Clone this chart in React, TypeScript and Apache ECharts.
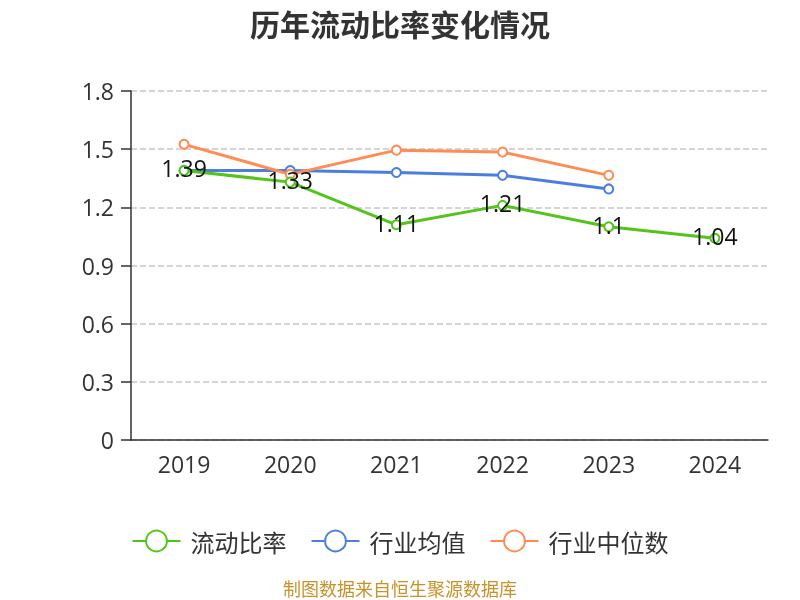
import React, { useEffect, useRef } from "react";
import * as echarts from "echarts";

const years = ["2019", "2020", "2021", "2022", "2023", "2024"];
const currentRatio = [1.39, 1.33, 1.11, 1.21, 1.1, 1.04];
const industryAvg = [1.39, 1.39, 1.38, 1.365, 1.295, null];
const industryMedian = [1.525, 1.37, 1.495, 1.485, 1.365, null];

const FONT = "'Open Sans', 'Noto Sans CJK SC', sans-serif";
const CJK = "'Noto Sans CJK SC', sans-serif";

export default function App() {
  const ref = useRef<HTMLDivElement>(null);
  useEffect(() => {
    if (!ref.current) return;
    const chart = echarts.init(ref.current, undefined, { renderer: "svg" });
    chart.setOption({
      animation: false,
      textStyle: { fontFamily: FONT },
      title: {
        text: "历年流动比率变化情况",
        left: "center",
        top: 3,
        textStyle: { fontSize: 30, fontWeight: "bold", color: "#333", fontFamily: CJK },
      },
      grid: { left: 131, right: 32, top: 91, bottom: 160 },
      legend: {
        top: 524,
        left: "center",
        itemWidth: 48,
        itemHeight: 26,
        itemGap: 24,
        textStyle: { fontSize: 24, color: "#333", fontFamily: CJK, padding: [0, 0, 0, 5] },
        data: ["流动比率", "行业均值", "行业中位数"],
      },
      graphic: [
        {
          type: "text",
          left: "center",
          top: 579,
          style: { text: "制图数据来自恒生聚源数据库", fill: "#c8922a", fontSize: 18, fontFamily: CJK },
        },
      ],
      xAxis: {
        type: "category",
        data: years,
        boundaryGap: true,
        axisLine: { lineStyle: { color: "#333", width: 1.5 } },
        axisTick: { length: 9, lineStyle: { color: "#333", width: 1.5 } },
        axisLabel: { fontSize: 23, color: "#333", margin: 12 },
      },
      yAxis: {
        type: "value",
        min: 0,
        max: 1.8,
        interval: 0.3,
        axisLine: { show: true, lineStyle: { color: "#333", width: 1.5 } },
        axisTick: { show: true, length: 10, lineStyle: { color: "#333", width: 1.5 } },
        axisLabel: {
          fontSize: 23,
          color: "#333",
          margin: 17,
          formatter: (v: number) => String(Math.round(v * 10) / 10),
        },
        splitLine: { lineStyle: { type: "dashed", color: "#c8c8c8", width: 1.5 } },
      },
      series: [
        {
          name: "流动比率",
          type: "line",
          data: currentRatio,
          symbol: "emptyCircle",
          symbolSize: 9,
          itemStyle: { color: "#52c41a" },
          lineStyle: { width: 3, color: "#52c41a" },
          label: { show: true, position: "inside", fontSize: 23, color: "#111", fontFamily: FONT, offset: [0, -2] },
          z: 3,
        },
        {
          name: "行业均值",
          type: "line",
          data: industryAvg,
          symbol: "emptyCircle",
          symbolSize: 9,
          itemStyle: { color: "#4a7fe0" },
          lineStyle: { width: 3, color: "#4a7fe0" },
          z: 2,
        },
        {
          name: "行业中位数",
          type: "line",
          data: industryMedian,
          symbol: "emptyCircle",
          symbolSize: 9,
          itemStyle: { color: "#ff8c55" },
          lineStyle: { width: 3, color: "#ff8c55" },
          z: 2,
        },
      ],
    });
    return () => chart.dispose();
  }, []);
  return <div ref={ref} style={{ position: "fixed", left: 0, top: 0, width: 800, height: 600 }} />;
}
